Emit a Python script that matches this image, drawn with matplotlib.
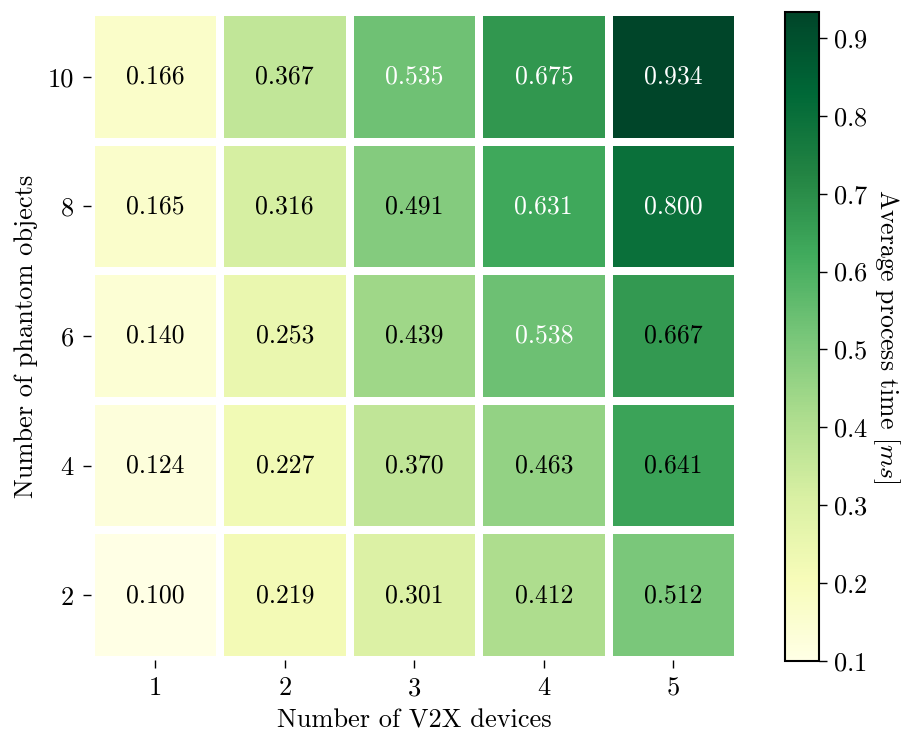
import numpy as np
import matplotlib
matplotlib.use("Agg")
import matplotlib.pyplot as plt

plt.rcParams["font.family"] = ["cmr10", "DejaVu Serif"]
plt.rcParams["mathtext.fontset"] = "cm"
plt.rcParams["axes.formatter.use_mathtext"] = True
plt.rcParams["axes.unicode_minus"] = False

devices = ["1", "2", "3", "4", "5"]
phantoms = ["10", "8", "6", "4", "2"]
# rows follow phantoms (top to bottom), columns follow devices
times = np.array([
    [0.166, 0.367, 0.535, 0.675, 0.934],
    [0.165, 0.316, 0.491, 0.631, 0.800],
    [0.140, 0.253, 0.439, 0.538, 0.667],
    [0.124, 0.227, 0.370, 0.463, 0.641],
    [0.100, 0.219, 0.301, 0.412, 0.512],
])
# annotation colour per cell (True -> white text)
white_text = np.array([
    [0, 0, 1, 1, 1],
    [0, 0, 0, 1, 1],
    [0, 0, 0, 1, 0],
    [0, 0, 0, 0, 0],
    [0, 0, 0, 0, 0],
], dtype=bool)

fig = plt.figure(figsize=(9.08, 7.36), dpi=100)
ax = fig.add_axes([0.0997, 0.1033, 0.7131, 0.8804])
cax = fig.add_axes([0.8645, 0.1023, 0.0374, 0.8818])

cmap = plt.get_cmap("YlGn")
vmin, vmax = times.min(), times.max()
mesh = ax.pcolormesh(times, cmap=cmap, vmin=vmin, vmax=vmax,
                     edgecolors="white", linewidth=4.5)
ax.set_xlim(0, times.shape[1])
ax.set_ylim(times.shape[0], 0)
for s in ax.spines.values():
    s.set_visible(False)

ax.set_xticks(np.arange(times.shape[1]) + 0.5)
ax.set_xticklabels(devices)
ax.set_yticks(np.arange(times.shape[0]) + 0.5)
ax.set_yticklabels(phantoms)
ax.tick_params(labelsize=19, length=6, width=1, pad=6)
ax.set_xlabel("Number of V2X devices", fontsize=19, labelpad=6)
ax.set_ylabel("Number of phantom objects", fontsize=19, labelpad=7)

for i in range(times.shape[0]):
    for j in range(times.shape[1]):
        v = times[i, j]
        ax.text(j + 0.5, i + 0.5, f"{v:.3f}", ha="center", va="center",
                fontsize=18.5, color="white" if white_text[i, j] else "black")

cb = fig.colorbar(mesh, cax=cax)
cb.outline.set_linewidth(1.5)
cb.set_ticks([0.1, 0.2, 0.3, 0.4, 0.5, 0.6, 0.7, 0.8, 0.9])
cb.ax.tick_params(labelsize=19, length=6, width=1, pad=4)
cb.set_label(r"Average process time $[ms]$", fontsize=18.5, rotation=270,
             labelpad=24)

fig.savefig("out.png", dpi=100)
